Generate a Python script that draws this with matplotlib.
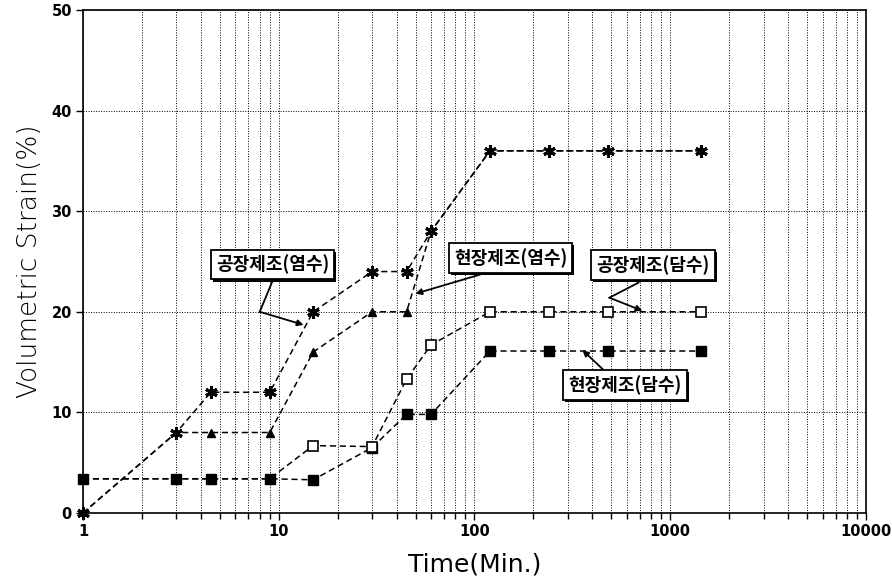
import matplotlib
matplotlib.use("Agg")
import matplotlib.pyplot as plt
import matplotlib.patheffects as pe
from matplotlib import font_manager
from matplotlib.ticker import FixedLocator, FixedFormatter, NullFormatter, LogLocator

# ---------------- data ----------------
time_min = [1, 3, 4.5, 9, 15, 30, 45, 60, 120, 240, 480, 1440]
factory_salt = [0, 8, 12, 12, 20, 24, 24, 28, 36, 36, 36, 36]      # 공장제조(염수)
site_salt = [0, 8, 8, 8, 16, 20, 20, 28, 36, 36, 36, 36]           # 현장제조(염수)
factory_fresh = [3.4, 3.4, 3.4, 3.4, 6.7, 6.6, 13.3, 16.7, 20, 20, 20, 20]   # 공장제조(담수)
site_fresh = [3.4, 3.4, 3.4, 3.4, 3.3, 6.5, 9.8, 9.8, 16.1, 16.1, 16.1, 16.1]  # 현장제조(담수)

x_ticks = [1, 10, 100, 1000, 10000]
x_tick_labels = ["1", "10", "100", "1000", "10000"]
y_ticks = [0, 10, 20, 30, 40, 50]
y_tick_labels = ["0", "10", "20", "30", "40", "50"]

label_factory_salt = "공장제조(염수)"
label_site_salt = "현장제조(염수)"
label_factory_fresh = "공장제조(담수)"
label_site_fresh = "현장제조(담수)"

# ---------------- fonts ----------------
names = {f.name for f in font_manager.fontManager.ttflist}
narrow = "Liberation Sans Narrow" if "Liberation Sans Narrow" in names else "DejaVu Sans"
kfont = ["Noto Sans CJK KR", "DejaVu Sans"]

fig = plt.figure(figsize=(8.92, 5.85), dpi=100)
ax = fig.add_axes([0.0930, 0.1231, 0.8778, 0.8598])

ax.set_xscale("log")
ax.set_xlim(1, 10000)
ax.set_ylim(0, 50)

dash = (4, 2.5)
common = dict(color="black", lw=1.1, dashes=dash, clip_on=False)

ax.plot(time_min, site_fresh, marker="s", ms=7, mfc="black", mec="black", zorder=3, **common)
ax.plot(time_min, factory_fresh, marker="s", ms=6.5, mfc="white", mec="black", mew=1.2,
        markevery=[4, 5, 6, 7, 8, 9, 10, 11], zorder=4, **common)
ax.plot(time_min, site_salt, marker="^", ms=6, mfc="black", mec="black",
        markevery=[2, 3, 4, 5, 6], zorder=3, **common)
ax.plot(time_min, factory_salt, marker=(6, 2, 0), ms=9, mec="black", mew=2.2, zorder=5, **common)

# grid
ax.grid(True, which="major", axis="both", color="black", lw=0.7, linestyle=(0, (1, 1.6)))
ax.grid(True, which="minor", axis="x", color="black", lw=0.7, linestyle=(0, (1, 1.6)))
ax.set_axisbelow(True)

ax.xaxis.set_major_locator(FixedLocator(x_ticks))
ax.xaxis.set_major_formatter(FixedFormatter(x_tick_labels))
ax.xaxis.set_minor_locator(LogLocator(base=10, subs=range(2, 10)))
ax.xaxis.set_minor_formatter(NullFormatter())
ax.yaxis.set_major_locator(FixedLocator(y_ticks))
ax.yaxis.set_major_formatter(FixedFormatter(y_tick_labels))

ax.tick_params(axis="both", which="major", direction="out", length=5, width=1.0,
               labelsize=10.5, pad=3)
ax.tick_params(axis="x", which="minor", direction="out", length=4, width=1.0)
for lab in ax.get_xticklabels() + ax.get_yticklabels():
    lab.set_family(narrow)
    lab.set_fontweight("bold")

for s in ax.spines.values():
    s.set_linewidth(1.2)

ax.set_xlabel("Time(Min.)", fontsize=18, family=narrow, labelpad=10)
ax.set_ylabel("Volumetric Strain(%)", fontsize=19, family="DejaVu Sans", labelpad=7)
ax.yaxis.label.set_fontweight("light")

# ---------------- annotation boxes ----------------
def box(xf, yf, text):
    t = ax.text(xf, yf, text, transform=ax.transAxes, ha="center", va="center",
                fontsize=13, fontweight="bold", family=kfont, zorder=10,
                bbox=dict(boxstyle="square,pad=0.28", fc="white", ec="black", lw=1.3))
    t.get_bbox_patch().set_path_effects(
        [pe.SimplePatchShadow(offset=(1.5, -1.5), shadow_rgbFace="black", alpha=1.0), pe.Normal()])
    return t

box(0.2420, 0.4940, label_factory_salt)
box(0.5460, 0.5070, label_site_salt)
box(0.7280, 0.4930, label_factory_fresh)
box(0.6922, 0.2545, label_site_fresh)

lk = dict(color="black", lw=1.3, zorder=9)
ak = dict(arrowstyle="-|>", color="black", lw=1.3, mutation_scale=9, shrinkA=0, shrinkB=0)

# 공장제조(염수)
ax.plot([9.27, 8.0], [23.0, 20.0], **lk)
ax.annotate("", xy=(13.4, 18.7), xytext=(8.0, 20.0), arrowprops=ak, zorder=9)
# 현장제조(염수)
ax.annotate("", xy=(49.9, 21.8), xytext=(107, 23.7), arrowprops=ak, zorder=9)
# 공장제조(담수)
ax.plot([689, 489], [22.9, 21.4], **lk)
ax.annotate("", xy=(721, 20.1), xytext=(489, 21.4), arrowprops=ak, zorder=9)
# 현장제조(담수)
ax.annotate("", xy=(356, 16.2), xytext=(452, 14.3), arrowprops=ak, zorder=9)

fig.savefig("out.png", dpi=100)
